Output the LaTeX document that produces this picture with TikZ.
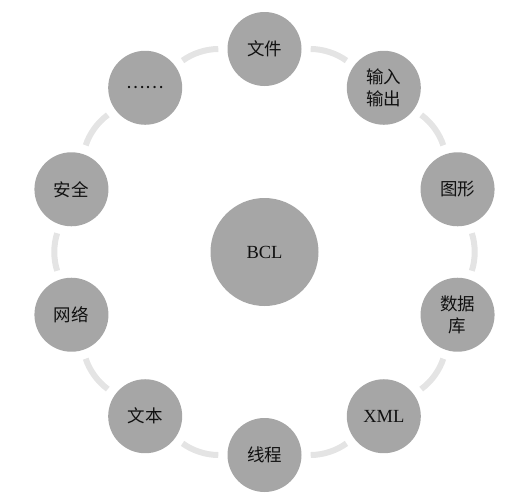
\documentclass[tikz,border=0pt]{standalone}
\usepackage{fontspec}
\setmainfont{Liberation Serif}
\newfontfamily\cjk{Noto Sans CJK SC}
\definecolor{nodegray}{HTML}{A6A6A6}
\definecolor{ringgray}{HTML}{E4E4E4}
\definecolor{txt}{HTML}{111111}
\tikzset{
  item/.style={circle, fill=nodegray, minimum size=74pt, inner sep=0pt, text=txt,
    font=\cjk\fontsize{17.5pt}{22pt}\selectfont, align=center},
  hub/.style={circle, fill=nodegray, minimum size=108pt, inner sep=0pt, text=txt,
    font=\fontsize{18.5pt}{21pt}\selectfont},
  latin/.style={font=\fontsize{18.5pt}{21pt}\selectfont},
  ring/.style={draw=ringgray, line width=6pt, shorten <=9pt, shorten >=9pt}
}
\begin{document}
\begin{tikzpicture}[x=1pt,y=1pt]
\useasboundingbox (0,0) rectangle (515,-496);
\begin{scope}[shift={(264.5,-252)}]
\node[hub] (bcl) at (0,0) {BCL};
\node[item] (n0) at (90:203) {文件};
\node[item] (n1) at (54:203) {输入\\输出};
\node[item] (n2) at (18:203) {图形};
\node[item] (n3) at (-18:203) {数据\\库};
\node[item, latin] (n4) at (-54:203) {XML};
\node[item] (n5) at (-90:203) {线程};
\node[item] (n6) at (-126:203) {文本};
\node[item] (n7) at (-162:203) {网络};
\node[item] (n8) at (162:203) {安全};
\node[item] (n9) at (126:203) {……};
\end{scope}
\foreach \a/\b in {n0/n1,n1/n2,n2/n3,n3/n4,n4/n5,n5/n6,n6/n7,n7/n8,n8/n9,n9/n0}
  \draw[ring] (\a) to[bend left=18] (\b);
\end{tikzpicture}
\end{document}
